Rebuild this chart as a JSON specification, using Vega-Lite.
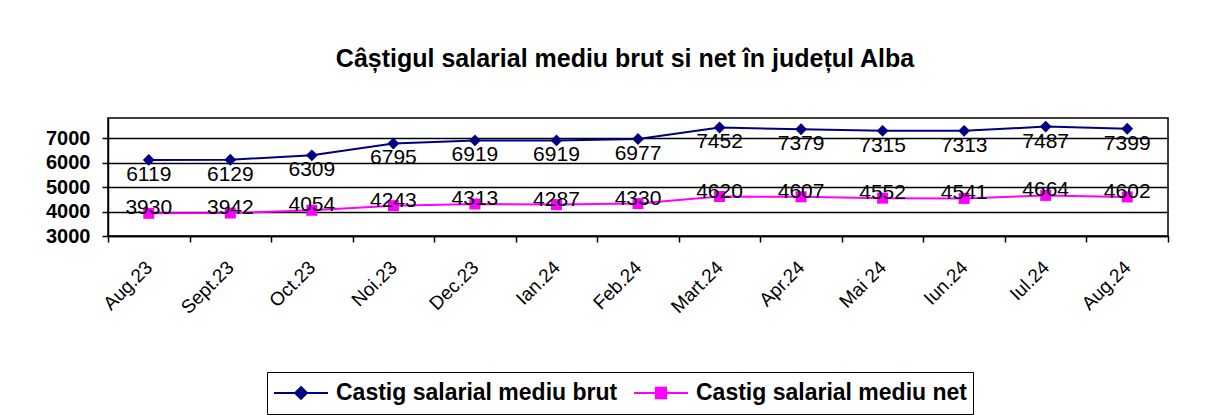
{
  "$schema": "https://vega.github.io/schema/vega-lite/v6.json",
  "autosize": "none",
  "width": 1060,
  "height": 118,
  "padding": {"left": 108, "top": 118, "right": 61, "bottom": 179},
  "background": "white",
  "title": {
    "text": "Câștigul salarial mediu brut si net în județul Alba",
    "font": "Liberation Sans",
    "fontSize": 25,
    "fontWeight": "bold",
    "color": "black",
    "anchor": "middle",
    "baseline": "alphabetic",
    "offset": 26,
    "dx": -13
  },
  "config": {
    "view": {"stroke": "black", "strokeWidth": 1.5},
    "axis": {"labelFont": "Liberation Sans", "labelColor": "black", "domainColor": "black", "tickColor": "black", "title": null}
  },
  "data": {
    "values": [
      {"luna": "Aug.23", "serie": "Castig salarial mediu brut", "valoare": 6119},
      {"luna": "Sept.23", "serie": "Castig salarial mediu brut", "valoare": 6129},
      {"luna": "Oct.23", "serie": "Castig salarial mediu brut", "valoare": 6309},
      {"luna": "Noi.23", "serie": "Castig salarial mediu brut", "valoare": 6795},
      {"luna": "Dec.23", "serie": "Castig salarial mediu brut", "valoare": 6919},
      {"luna": "Ian.24", "serie": "Castig salarial mediu brut", "valoare": 6919},
      {"luna": "Feb.24", "serie": "Castig salarial mediu brut", "valoare": 6977},
      {"luna": "Mart.24", "serie": "Castig salarial mediu brut", "valoare": 7452},
      {"luna": "Apr.24", "serie": "Castig salarial mediu brut", "valoare": 7379},
      {"luna": "Mai 24", "serie": "Castig salarial mediu brut", "valoare": 7315},
      {"luna": "Iun.24", "serie": "Castig salarial mediu brut", "valoare": 7313},
      {"luna": "Iul.24", "serie": "Castig salarial mediu brut", "valoare": 7487},
      {"luna": "Aug.24", "serie": "Castig salarial mediu brut", "valoare": 7399},
      {"luna": "Aug.23", "serie": "Castig salarial mediu net", "valoare": 3930},
      {"luna": "Sept.23", "serie": "Castig salarial mediu net", "valoare": 3942},
      {"luna": "Oct.23", "serie": "Castig salarial mediu net", "valoare": 4054},
      {"luna": "Noi.23", "serie": "Castig salarial mediu net", "valoare": 4243},
      {"luna": "Dec.23", "serie": "Castig salarial mediu net", "valoare": 4313},
      {"luna": "Ian.24", "serie": "Castig salarial mediu net", "valoare": 4287},
      {"luna": "Feb.24", "serie": "Castig salarial mediu net", "valoare": 4330},
      {"luna": "Mart.24", "serie": "Castig salarial mediu net", "valoare": 4620},
      {"luna": "Apr.24", "serie": "Castig salarial mediu net", "valoare": 4607},
      {"luna": "Mai 24", "serie": "Castig salarial mediu net", "valoare": 4552},
      {"luna": "Iun.24", "serie": "Castig salarial mediu net", "valoare": 4541},
      {"luna": "Iul.24", "serie": "Castig salarial mediu net", "valoare": 4664},
      {"luna": "Aug.24", "serie": "Castig salarial mediu net", "valoare": 4602}
    ]
  },
  "encoding": {
    "x": {
      "field": "luna",
      "type": "ordinal",
      "sort": ["Aug.23", "Sept.23", "Oct.23", "Noi.23", "Dec.23", "Ian.24", "Feb.24", "Mart.24", "Apr.24", "Mai 24", "Iun.24", "Iul.24", "Aug.24"],
      "scale": {"type": "band", "paddingInner": 0, "paddingOuter": 0},
      "bandPosition": 0.5,
      "axis": {
        "labelAngle": -45,
        "labelAlign": "right",
        "labelBaseline": "middle",
        "labelFontSize": 19,
        "labelDx": -19,
        "labelPadding": 22,
        "tickBand": "extent",
        "tickSize": 6,
        "domainWidth": 1.5,
        "tickWidth": 1.5,
        "grid": false
      }
    },
    "y": {
      "field": "valoare",
      "type": "quantitative",
      "scale": {"domain": [3000, 7840], "nice": false, "zero": false},
      "axis": {
        "values": [3000, 4000, 5000, 6000, 7000],
        "labelFontSize": 20,
        "labelFontWeight": "bold",
        "tickSize": 6,
        "labelPadding": 12,
        "grid": true,
        "gridColor": "black",
        "gridWidth": 1.5,
        "domainWidth": 1.5,
        "tickWidth": 1.5,
        "format": "d"
      }
    }
  },
  "layer": [
    {
      "mark": {"type": "line", "strokeWidth": 2},
      "encoding": {
        "color": {
          "field": "serie",
          "type": "nominal",
          "scale": {"domain": ["Castig salarial mediu brut", "Castig salarial mediu net"], "range": ["#000080", "#FF00FF"]},
          "legend": {
            "orient": "none",
            "legendX": 159,
            "legendY": 254,
            "direction": "horizontal",
            "title": null,
            "strokeColor": "black",
            "padding": 6,
            "labelFont": "Liberation Sans",
            "labelFontSize": 23,
            "labelFontWeight": "bold",
            "labelColor": "black",
            "labelLimit": 0,
            "labelOffset": 7,
            "columnPadding": 15,
            "symbolSize": 2916,
            "symbolStrokeWidth": 2,
            "clipHeight": 30,
            "encode": {
              "symbols": {
                "update": {
                  "shape": {"signal": "datum.value === 'Castig salarial mediu brut' ? 'M-1,0L1,0M0,-0.22L0.22,0L0,0.22L-0.22,0Z' : 'M-1,0L1,0M-0.19,-0.19L0.19,-0.19L0.19,0.19L-0.19,0.19Z'"},
                  "fill": {"signal": "datum.value === 'Castig salarial mediu brut' ? '#000080' : '#FF00FF'"},
                  "stroke": {"signal": "datum.value === 'Castig salarial mediu brut' ? '#000080' : '#FF00FF'"},
                  "opacity": {"value": 1},
                  "fillOpacity": {"value": 1}
                }
              }
            }
          }
        }
      }
    },
    {
      "transform": [{"filter": "datum.serie === 'Castig salarial mediu brut'"}],
      "mark": {"type": "point", "shape": "diamond", "filled": true, "size": 140, "color": "#000080", "opacity": 1}
    },
    {
      "transform": [{"filter": "datum.serie === 'Castig salarial mediu net'"}],
      "mark": {"type": "point", "shape": "square", "filled": true, "size": 121, "color": "#FF00FF", "opacity": 1}
    },
    {
      "transform": [{"filter": "datum.serie === 'Castig salarial mediu brut'"}],
      "mark": {"type": "text", "font": "Liberation Sans", "fontSize": 21, "color": "black", "baseline": "middle", "dy": 15},
      "encoding": {"text": {"field": "valoare", "type": "quantitative", "format": "d"}}
    },
    {
      "transform": [{"filter": "datum.serie === 'Castig salarial mediu net'"}],
      "mark": {"type": "text", "font": "Liberation Sans", "fontSize": 21, "color": "black", "baseline": "middle", "dy": -5},
      "encoding": {"text": {"field": "valoare", "type": "quantitative", "format": "d"}}
    }
  ]
}
